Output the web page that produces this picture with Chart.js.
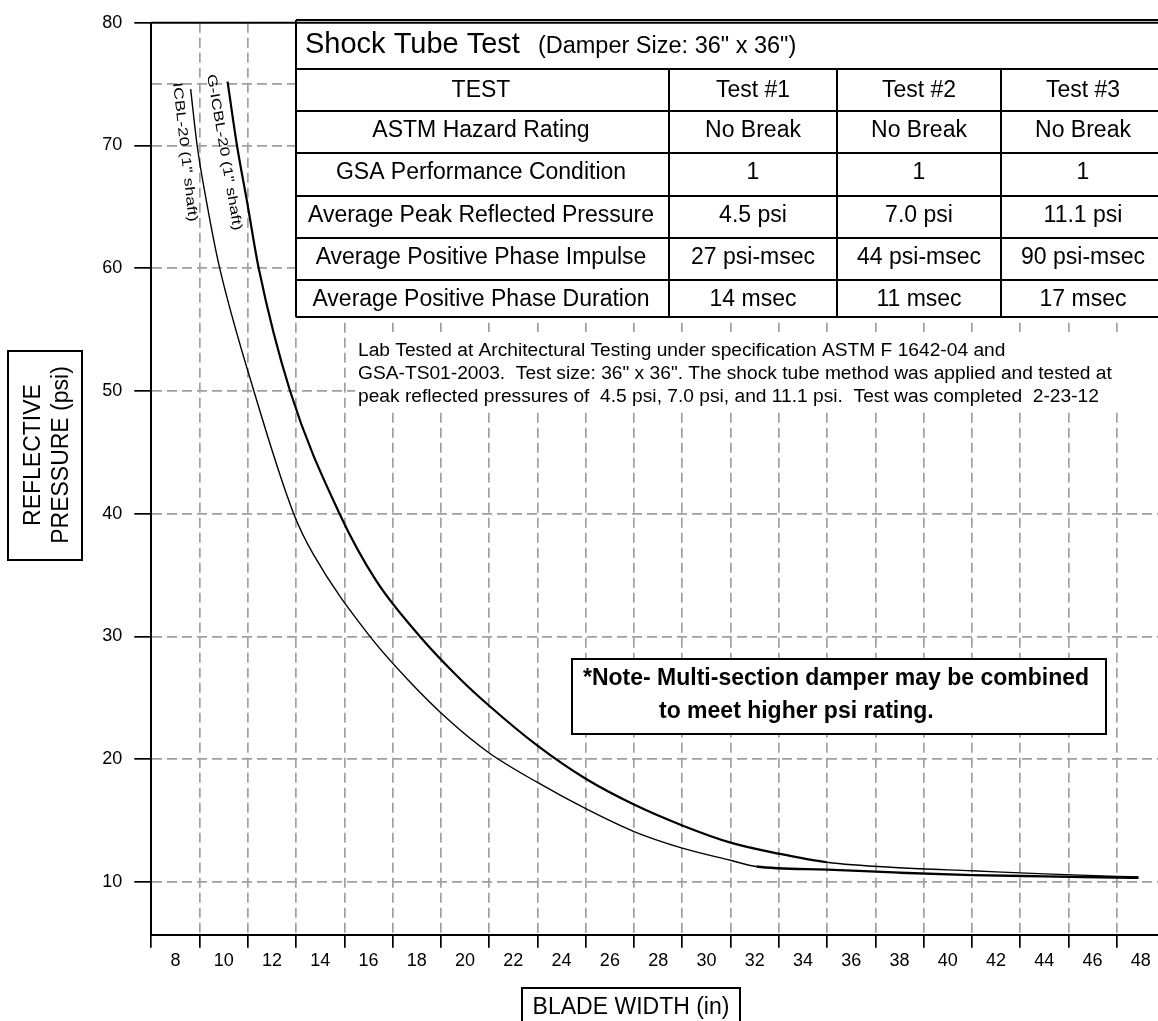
<!DOCTYPE html>
<html><head><meta charset="utf-8">
<script src="https://cdn.jsdelivr.net/npm/chart.js@4.4.1/dist/chart.umd.min.js"></script>
<style>html,body{margin:0;padding:0;background:#fff;overflow:hidden}canvas{display:block}</style>
</head><body>
<canvas id="c" width="1158" height="1021"></canvas>
<script>
const FONT = '"Liberation Sans", Arial, Helvetica, sans-serif';

// ---- Series ----
const icblWidth    = [8.63, 8.9, 9.29, 9.8, 11.25, 12.9, 13.71, 16.06, 17.64, 19.37, 21, 23, 25, 27, 29, 31, 32.07, 35, 38, 41, 44, 47, 47.9];
const icblPressure = [74.6, 70, 65.4, 60.3, 50, 40, 36.7, 30, 26.45, 23.1, 20.5, 18.1, 15.96, 14.1, 12.75, 11.76, 11.25, 11.0, 10.75, 10.55, 10.45, 10.36, 10.33];
const gicblWidth    = [10.16, 10.55, 10.97, 11.45, 12.75, 14.8, 16.33, 18.13, 19.71, 21, 23, 25, 27, 29, 31, 33, 35, 38, 41, 44, 47, 47.9];
const gicblPressure = [75.2, 70, 65.4, 60, 50, 40, 34.5, 30, 26.7, 24.35, 21.1, 18.4, 16.3, 14.6, 13.2, 12.3, 11.6, 11.15, 10.9, 10.65, 10.45, 10.4];

// ---- Axis ticks ----
const bladeWidthLabels = [8, 10, 12, 14, 16, 18, 20, 22, 24, 26, 28, 30, 32, 34, 36, 38, 40, 42, 44, 46, 48];
const bladeWidthGrid   = [7, 9, 11, 13, 15, 17, 19, 21, 23, 25, 27, 29, 31, 33, 35, 37, 39, 41, 43, 45, 47];
const pressureLabels   = [10, 20, 30, 40, 50, 60, 70, 80];
const pressureExtraGrid = [75];

// ---- Table text ----
const tableTitle = 'Shock Tube Test';
const tableSubtitle = '(Damper Size: 36" x 36")';
const rowNames = ['TEST', 'ASTM Hazard Rating', 'GSA Performance Condition', 'Average Peak Reflected Pressure', 'Average Positive Phase Impulse', 'Average Positive Phase Duration'];
const test1 = ['Test #1', 'No Break', '1', '4.5 psi', '27 psi-msec', '14 msec'];
const test2 = ['Test #2', 'No Break', '1', '7.0 psi', '44 psi-msec', '11 msec'];
const test3 = ['Test #3', 'No Break', '1', '11.1 psi', '90 psi-msec', '17 msec'];
const footnote = [
  'Lab Tested at Architectural Testing under specification ASTM F 1642-04 and',
  'GSA-TS01-2003.  Test size: 36" x 36". The shock tube method was applied and tested at',
  'peak reflected pressures of  4.5 psi, 7.0 psi, and 11.1 psi.  Test was completed  2-23-12'
];
const noteLines = ['*Note- Multi-section damper may be combined', 'to meet higher psi rating.'];

const GRID = '#a0a0a0';

const overlay = {
  id: 'overlay',
  beforeDatasetsDraw(chart) {
    const ctx = chart.ctx;
    ctx.save();
    // footnote
    ctx.fillStyle = '#fff';
    ctx.fillRect(355, 332, 810, 78);
    ctx.fillStyle = '#000';
    ctx.font = '19.2px ' + FONT;
    ctx.textAlign = 'left';
    ctx.textBaseline = 'alphabetic';
    footnote.forEach((t, i) => ctx.fillText(t, 358, 356 + i * 23));

    // table
    const colX = [296, 669, 837, 1001, 1162];
    const rowY = [20, 69, 111, 153, 196, 238, 280, 317];
    ctx.fillStyle = '#fff';
    ctx.fillRect(colX[0], rowY[0], colX[4] - colX[0], rowY[7] - rowY[0]);
    ctx.strokeStyle = '#000';
    ctx.lineWidth = 2;
    ctx.beginPath();
    rowY.forEach(y => { ctx.moveTo(colX[0], y); ctx.lineTo(colX[4], y); });
    ctx.moveTo(colX[0], rowY[0]); ctx.lineTo(colX[0], rowY[7]);
    [1, 2, 3].forEach(i => { ctx.moveTo(colX[i], rowY[1]); ctx.lineTo(colX[i], rowY[7]); });
    ctx.stroke();
    ctx.fillStyle = '#000';
    ctx.textAlign = 'left';
    ctx.font = '29px ' + FONT;
    ctx.fillText(tableTitle, 305, 53);
    const tw = ctx.measureText(tableTitle).width;
    ctx.font = '23.5px ' + FONT;
    ctx.fillText(tableSubtitle, 305 + tw + 18, 53);
    ctx.textAlign = 'center';
    ctx.font = '23px ' + FONT;
    const centers = [481, 753, 919, 1083];
    const cols = [rowNames, test1, test2, test3];
    for (let r = 0; r < rowNames.length; r++) {
      const base = rowY[r + 1] + (r === 0 ? 27.5 : 26);
      cols.forEach((col, c) => ctx.fillText(col[r], centers[c], base));
    }

    // note box
    ctx.fillStyle = '#fff';
    ctx.fillRect(572, 659, 534, 75);
    ctx.lineWidth = 2;
    ctx.strokeRect(572, 659, 534, 75);
    ctx.fillStyle = '#000';
    ctx.textAlign = 'left';
    ctx.font = 'bold 23px ' + FONT;
    ctx.fillText(noteLines[0], 583, 685);
    ctx.fillText(noteLines[1], 659, 718);
    ctx.restore();
  },
  afterDraw(chart) {
    const ctx = chart.ctx, a = chart.chartArea;
    ctx.save();
    // top frame line
    ctx.strokeStyle = '#000';
    ctx.lineWidth = 2;
    ctx.beginPath();
    ctx.moveTo(a.left, a.top); ctx.lineTo(a.right, a.top);
    ctx.stroke();

    // y title box
    ctx.lineWidth = 2;
    ctx.strokeRect(8, 351, 74, 209);
    ctx.fillStyle = '#000';
    ctx.font = '23px ' + FONT;
    ctx.textAlign = 'center';
    ctx.textBaseline = 'alphabetic';
    ctx.save(); ctx.translate(40, 455); ctx.rotate(-Math.PI / 2); ctx.fillText('REFLECTIVE', 0, 0); ctx.restore();
    ctx.save(); ctx.translate(67.5, 455); ctx.rotate(-Math.PI / 2); ctx.fillText('PRESSURE (psi)', 0, 0); ctx.restore();

    // x title box
    ctx.strokeRect(522, 988, 218, 40);
    ctx.fillText('BLADE WIDTH (in)', 631, 1014);

    // curve labels
    ctx.font = '13.5px ' + FONT;
    ctx.textAlign = 'left';
    ctx.save(); ctx.translate(173, 83); ctx.rotate(Math.atan2(140, 16)); ctx.scale(1.3, 1); ctx.fillText('ICBL-20 (1" shaft)', 0, 0); ctx.restore();
    ctx.save(); ctx.translate(207, 75); ctx.rotate(Math.atan2(158, 27)); ctx.scale(1.29, 1); ctx.fillText('G-ICBL-20 (1" shaft)', 0, 0); ctx.restore();
    ctx.restore();
  }
};

const toPoints = (xs, ys) => xs.map((x, i) => ({x, y: ys[i]}));

new Chart(document.getElementById('c'), {
  type: 'line',
  data: {
    datasets: [
      {
        label: 'ICBL-20 (1" shaft)',
        data: toPoints(icblWidth, icblPressure),
        borderColor: '#000',
        borderWidth: 1.4,
        pointRadius: 0,
        fill: false,
        cubicInterpolationMode: 'monotone',
        segment: { borderWidth: c => c.p0.parsed.x >= 32 ? 2.4 : 1.4 }
      },
      {
        label: 'G-ICBL-20 (1" shaft)',
        data: toPoints(gicblWidth, gicblPressure),
        borderColor: '#000',
        borderWidth: 2.2,
        pointRadius: 0,
        fill: false,
        cubicInterpolationMode: 'monotone',
        segment: { borderWidth: c => c.p0.parsed.x >= 35 ? 1.4 : 2.2 }
      }
    ]
  },
  options: {
    responsive: false,
    animation: false,
    devicePixelRatio: 1,
    layout: { padding: { top: 20, left: 0, right: 0, bottom: 0 } },
    plugins: { legend: { display: false }, tooltip: { enabled: false } },
    scales: {
      x: {
        type: 'linear',
        min: 7,
        max: 48.71,
        afterFit: s => { s.height = 86.3; },
        afterBuildTicks: s => {
          s.ticks = bladeWidthGrid.concat(bladeWidthLabels).sort((p, q) => p - q).map(v => ({value: v}));
        },
        ticks: {
          autoSkip: false, maxRotation: 0, minRotation: 0, padding: 3,
          color: '#000', font: { family: FONT, size: 18 },
          callback: v => bladeWidthLabels.includes(v) ? String(v) : ''
        },
        grid: {
          color: c => (c.tick && bladeWidthGrid.includes(c.tick.value) && c.tick.value !== 7) ? GRID : 'rgba(0,0,0,0)',
          lineWidth: 1.7,
          tickColor: c => (c.tick && bladeWidthGrid.includes(c.tick.value)) ? '#000' : 'rgba(0,0,0,0)',
          tickLength: 13,
          tickWidth: 1.7
        },
        border: { display: true, color: '#000', width: 2, dash: [10, 5] }
      },
      y: {
        type: 'linear',
        min: 5.695,
        max: 80,
        afterFit: s => { s.width = 151.3; },
        afterBuildTicks: s => {
          s.ticks = pressureLabels.concat(pressureExtraGrid).sort((p, q) => p - q).map(v => ({value: v}));
        },
        ticks: {
          padding: 12, color: '#000', font: { family: FONT, size: 18 },
          callback: v => pressureLabels.includes(v) ? String(v) : ''
        },
        grid: {
          color: c => (c.tick && c.tick.value === 80) ? 'rgba(0,0,0,0)' : GRID,
          lineWidth: 1.7,
          tickColor: c => (c.tick && pressureLabels.includes(c.tick.value)) ? '#000' : 'rgba(0,0,0,0)',
          tickLength: 17,
          tickWidth: 1.7
        },
        border: { display: true, color: '#000', width: 2, dash: [10, 5] }
      }
    }
  },
  plugins: [overlay]
});
</script>
</body></html>
